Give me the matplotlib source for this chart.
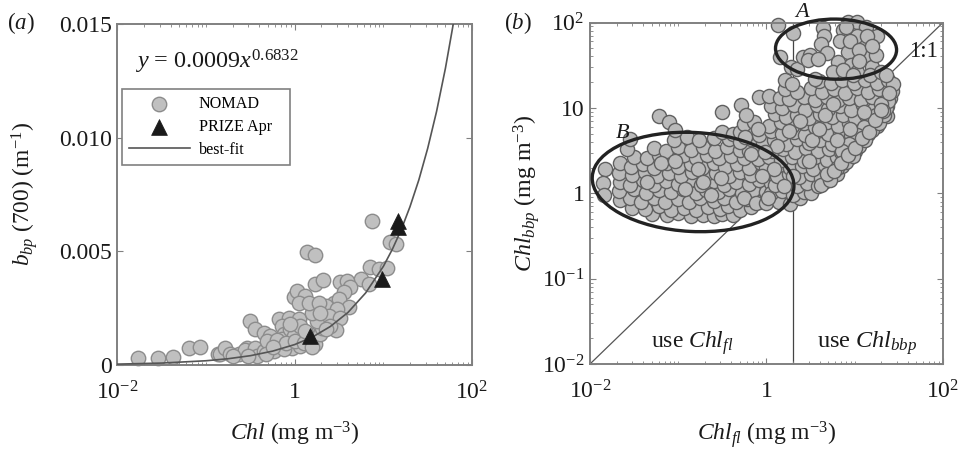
import numpy as np
import matplotlib
matplotlib.use('Agg')
import matplotlib.pyplot as plt
from matplotlib.patches import Ellipse
from matplotlib.ticker import LogLocator, NullFormatter, FixedLocator

plt.rcParams['font.family'] = ['Liberation Serif', 'DejaVu Serif']
plt.rcParams['mathtext.fontset'] = 'custom'
plt.rcParams['mathtext.rm'] = 'Liberation Serif'
plt.rcParams['mathtext.it'] = 'Liberation Serif:italic'
plt.rcParams['mathtext.bf'] = 'Liberation Serif:bold'

# panel a, NOMAD: log10(chl), bbp700
nomad_logchl = [-1.774, -1.54, -1.379, -1.198, -1.073, -.87, -.84, -.783, -.727, -.633, -.539, -.557, -.444, -.426,
                -.35, -.508, -.444, -.35, -.275, -.313, -.237, -.181, -.068, -.143, -.124, -.143, -.049, -.011,
                .045, .064, -.03, .064, .158, .234, .177, .29, .309, .252, .196, -.011, .026, .12, .045, .158,
                .234, .32, .139, .234, .874, 1.08, 1.145, .847, .949, 1.043, .75, .516, .584, .621, .554, .441,
                .497, .347, .61, .478, .384, .516, .471, .836, .271, .29, .403, .347, -.7, -.53, -.32, -.12,
                -.2, -.1, .0, .1, .2, .12, -.25, -.05]
nomad_bbp = [.00032, .00029, .00035, .00073, .00079, .0005, .00047, .00076, .00047, .00047, .00076, .00065, .00076, .0004,
             .00062, .00194, .00157, .00142, .00128, .00106, .00062, .00201, .00208, .00172, .00135, .00113, .00157, .00128,
             .00201, .00172, .00076, .00084, .00135, .00091, .0012, .00135, .00164, .00194, .0023, .00297, .00326, .00304, .00274, .00274,
             .00355, .00373, .00499, .00484, .00634, .00543, .00531, .00431, .00421, .00426, .0038, .00367, .0037, .00341, .00319, .00274,
             .00289, .0026, .00255, .00245, .00216, .00208, .00153, .00355, .00274, .0023, .00172, .00157, .0004, .0004, .0005, .0007,
             .0011, .00095, .00105, .00095, .0008, .0015, .0008, .0018]

# panel a, PRIZE Apr
prize_logchl = [.177, .987, 1.164, 1.164]
prize_bbp = [.00128, .00377, .00605, .00634]

# panel a, best-fit curve
fit_logchl = [-2, -1.5, -1, -.75, -.5, -.25, 0, .2, .4, .6, .8, 1, 1.1, 1.2, 1.3, 1.4, 1.5, 1.6, 1.7, 1.79]
fit_bbp = [.0000387, .000085, .000187, .000277, .00041, .00061, .0009, .00123, .00169, .00231, .00317, .00434,
           .00508, .00594, .00696, .00814, .00953, .01115, .01305, .01503]

# panel b: (log10 chl_fl, log10 chl_bbp)
group_b = [
    (-1.83, .28), (-1.85, .12), (-1.84, -.02),
    (-1.3, -.24), (-1.13, -.26), (-1.0, -.23), (-.86, -.27), (-.72, -.25), (-.6, -.27), (-.5, -.24), (-.38, -.26),
    (-1.52, -.17), (-1.38, -.19), (-1.22, -.15), (-1.08, -.2), (-.94, -.17), (-.8, -.2), (-.66, -.16), (-.53, -.19), (-.44, -.15), (-.3, -.2), (-.18, -.16),
    (-1.66, -.08), (-1.55, -.05), (-1.42, -.1), (-1.28, -.06), (-1.15, -.1), (-1.0, -.07), (-.88, -.1), (-.75, -.05), (-.6, -.09), (-.48, -.06), (-.35, -.1), (-.22, -.07), (-.08, -.1), (.05, -.06),
    (-1.67, .03), (-1.5, .05), (-1.36, .0), (-1.22, .04), (-1.08, .01), (-.95, .05), (-.8, .0), (-.68, .04), (-.55, .01), (-.42, .05), (-.28, .0), (-.15, .04), (0, .01), (.1, .05),
    (-1.66, .13), (-1.55, .1), (-1.4, .15), (-1.28, .1), (-1.14, .14), (-1.0, .11), (-.87, .15), (-.74, .1), (-.6, .14), (-.48, .1), (-.34, .13), (-.2, .11), (-.08, .15), (.05, .12), (.14, .1),
    (-1.67, .24), (-1.52, .21), (-1.38, .25), (-1.24, .2), (-1.1, .24), (-.97, .2), (-.84, .25), (-.7, .21), (-.57, .24), (-.43, .2), (-.3, .25), (-.17, .21), (-.03, .24), (.1, .2),
    (-1.66, .35), (-1.54, .31), (-1.4, .34), (-1.27, .3), (-1.13, .35), (-1.0, .31), (-.86, .34), (-.73, .3), (-.6, .35), (-.47, .31), (-.33, .34), (-.2, .3), (-.06, .35), (.05, .31),
    (-1.5, .43), (-1.35, .41), (-1.22, .45), (-1.08, .41), (-.94, .45), (-.8, .41), (-.67, .45), (-.54, .41), (-.4, .44), (-.26, .41), (-.12, .45),
    (-1.58, .52), (-1.28, .53), (-1.14, .5), (-1.0, .54), (-.86, .51), (-.72, .54), (-.58, .5), (-.45, .54), (-.3, .51), (-.16, .54),
    (-1.55, .64), (-1.05, .62), (-.9, .66), (-.76, .62), (-.6, .65), (-.42, .63), (-.28, .67), (-.5, .72), (-.38, .69),
    (-1.22, .9), (-1.1, .84), (-1.04, .74), (-.5, .95), (-.29, 1.03),
    (-1.2, .35), (-.92, .05), (-.78, .28), (-.63, -.02), (-.51, .18), (-1.04, .38), (-.72, .13), (-.26, -.05), (-1.35, .13), (-.12, -.12),
]
group_mid = [
    (.0, -.12), (.14, -.1), (.27, -.13), (.38, -.06),
    (.05, .0), (.18, .03), (.3, -.02), (.42, .02), (.5, .0),
    (.1, .1), (.22, .13), (.34, .08), (.46, .12), (.58, .09), (.65, .13),
    (.12, .2), (.25, .23), (.37, .19), (.5, .22), (.62, .18), (.74, .2), (.8, .23),
    (.0, .3), (.14, .33), (.27, .29), (.4, .32), (.53, .28), (.66, .33), (.78, .29), (.85, .32),
    (-.1, .4), (.03, .43), (.16, .39), (.29, .42), (.42, .38), (.55, .42), (.68, .39), (.8, .43), (.94, .41),
    (-.2, .5), (-.07, .53), (.06, .49), (.19, .52), (.32, .48), (.45, .53), (.58, .49), (.71, .52), (.84, .48), (1.0, .5),
    (-.3, .6), (-.17, .63), (-.04, .59), (.09, .62), (.22, .58), (.35, .63), (.48, .59), (.61, .62), (.74, .58), (.87, .62), (1.0, .59), (1.1, .62),
    (-.3, .72), (-.2, .7), (-.08, .68), (.05, .73), (.18, .69), (.31, .72), (.44, .68), (.57, .73), (.7, .69), (.83, .72), (.96, .68), (1.08, .72), (1.15, .69),
    (-.25, .81), (-.14, .84), (.03, .79), (.16, .83), (.29, .79), (.42, .82), (.55, .78), (.68, .83), (.81, .79), (.94, .82), (1.07, .78), (1.2, .82), (1.25, .79),
    (-.23, .92), (.1, .93), (.22, .89), (.35, .92), (.48, .88), (.61, .93), (.74, .89), (.87, .92), (1.0, .88), (1.13, .92), (1.27, .88), (1.36, .91),
    (.05, 1.02), (.18, 1.0), (.31, 1.03), (.44, .98), (.57, 1.03), (.7, .99), (.83, 1.02), (.96, .98), (1.09, 1.03), (1.22, .99), (1.37, 1.02),
    (-.08, 1.13), (.03, 1.14), (.15, 1.12), (.25, 1.1), (.42, 1.13), (.55, 1.09), (.68, 1.13), (.81, 1.09), (.94, 1.12), (1.07, 1.09), (1.2, 1.13), (1.34, 1.1), (1.4, 1.12),
    (.21, 1.22), (.35, 1.19), (.5, 1.23), (.63, 1.19), (.76, 1.22), (.89, 1.18), (1.02, 1.23), (1.15, 1.19), (1.28, 1.22), (1.42, 1.2),
    (.21, 1.33), (.29, 1.28), (.6, 1.32), (.73, 1.29), (.86, 1.33), (.99, 1.29), (1.12, 1.33), (1.25, 1.29), (1.38, 1.33), (1.43, 1.28),
    (.62, .1), (.72, .16), (.8, .3), (.9, .37), (.98, .44), (1.05, .55), (1.12, .62), (1.2, .74), (1.28, .82), (1.33, .92),
    (1.35, 1.0), (1.38, 1.08), (1.3, 1.05), (1.32, .96), (1.24, .92), (1.16, .84), (1.1, .78), (1.02, .68), (.93, .58), (.86, .5),
    (.68, .22), (.76, .26), (.84, .35), (.92, .45), (1.0, .53), (1.08, .65), (1.16, .72), (1.23, .86), (1.3, .97), (1.39, 1.17),
    (.25, .73), (.52, .62), (.38, .85), (.66, .92), (.12, .55), (.48, .38), (.8, .62), (.95, .75), (.6, .75), (.3, .2),
    (-.18, .46), (-.1, .75), (-.24, .66), (-.02, .48), (.08, .28), (.2, .08), (-.05, .2), (.02, -.05), (1.1, .95), (.75, 1.05),
]
group_a = [
    (.132, 1.97), (.3, 1.875), (.15, 1.6), (.28, 1.48), (.35, 1.45), (.64, 1.93), (.65, 1.84), (.62, 1.75),
    (.87, 1.91), (.92, 2.01), (1.02, 2.01), (1.13, 1.95), (1.25, 1.84), (1.02, 1.84), (.83, 1.78), (1.13, 1.72),
    (.92, 1.66), (.68, 1.64), (.415, 1.6), (.49, 1.62), (.47, 1.555), (.585, 1.57), (.81, 1.54), (.96, 1.5),
    (1.11, 1.6), (1.2, 1.48), (.755, 1.425), (.87, 1.44), (1.02, 1.42), (1.24, 1.62), (1.14, 1.84), (.95, 1.78),
    (1.05, 1.68), (1.17, 1.38), (1.3, 1.42), (.9, 1.95), (1.2, 1.72), (.55, 1.34), (.98, 1.38), (1.05, 1.55), (1.35, 1.38),
]
chl_points = group_b + group_mid + group_a

diag_x = [.01, 100]
diag_y = [.01, 100]
switch_x = [2.0, 2.0]
switch_y = [.01, 100]

W, H = 962, 449
fig = plt.figure(figsize=(W / 100, H / 100), dpi=100)
ax1 = fig.add_axes([117.5 / W, (H - 365) / H, 354.5 / W, 341 / H])
ax2 = fig.add_axes([590 / W, (H - 364) / H, 353 / W, 341.5 / H])

gray = '#808080'
for ax in (ax1, ax2):
    ax.set_xscale('log')
    ax.set_xlim(.01, 100)
    ax.xaxis.set_major_locator(FixedLocator([.01, 1, 100]))
    ax.xaxis.set_minor_locator(LogLocator(base=10, subs=np.arange(1, 10), numticks=12))
    ax.xaxis.set_minor_formatter(NullFormatter())
    ax.set_xticklabels([r'$10^{-2}$', '1', r'$10^{2}$'])
    ax.tick_params(which='major', direction='in', top=True, right=True, length=4, width=.8, color=gray, labelsize=17, labelcolor='#1a1a1a')
    ax.tick_params(which='minor', direction='in', top=True, right=True, length=2, width=.6, color=gray)
    ax.tick_params(axis='x', which='major', pad=12)
    ax.tick_params(axis='y', which='major', pad=4)
    for s in ax.spines.values():
        s.set_color(gray)
        s.set_linewidth(1.4)

# (a)
ax1.set_ylim(0, .015)
ax1.set_yticks([0, .005, .01, .015])
ax1.set_yticklabels(['0', '0.005', '0.010', '0.015'])
h1 = ax1.scatter(10 ** np.array(nomad_logchl), nomad_bbp, s=108, c='#c0c0c0', edgecolors='#8c8c8c', linewidths=1, zorder=2, clip_on=False, label='NOMAD')
h3, = ax1.plot(10 ** np.array(fit_logchl), fit_bbp, color='#555555', lw=1.2, zorder=3, label='best-fit')
h2 = ax1.scatter(10 ** np.array(prize_logchl), prize_bbp, s=130, marker='^', c='#1a1a1a', edgecolors='#1a1a1a', linewidths=.5, zorder=4, clip_on=False, label='PRIZE Apr')
ax1.text(.05, .888, r'$\mathit{y}$ = 0.0009$\mathit{x}^{0.6832}$', transform=ax1.transAxes, fontsize=17.4, va='center', color='#1a1a1a')
leg = ax1.legend([h1, h2, h3], ['NOMAD', 'PRIZE Apr   ', 'best-fit'], loc='upper left', bbox_to_anchor=(.012, .808),
                 borderaxespad=0, fancybox=False, framealpha=1, edgecolor=gray, fontsize=11.6, handlelength=3.8,
                 handletextpad=.55, labelspacing=.42, borderpad=.42, scatterpoints=1)
leg.get_frame().set_linewidth(1.2)
ax1.set_xlabel(r'$\mathit{Chl}$ (mg m$^{-3}$)', fontsize=17, labelpad=11, color='#1a1a1a')
ax1.set_ylabel(r'$\mathit{b}_{\mathit{bp}}$ (700) (m$^{-1}$)', fontsize=16.8, labelpad=14, color='#1a1a1a')

# (b)
ax2.set_yscale('log')
ax2.set_ylim(.01, 100)
ax2.yaxis.set_major_locator(FixedLocator([.01, .1, 1, 10, 100]))
ax2.yaxis.set_minor_locator(LogLocator(base=10, subs=np.arange(1, 10), numticks=12))
ax2.yaxis.set_minor_formatter(NullFormatter())
ax2.set_yticklabels([r'$10^{-2}$', r'$10^{-1}$', '1', '10', r'$10^{2}$'])
ax2.plot(diag_x, diag_y, color='#555555', lw=.9, zorder=1)
ax2.plot(switch_x, switch_y, color='#444444', lw=.9, zorder=1)
pts = 10 ** np.array(chl_points)
ax2.scatter(pts[:, 0], pts[:, 1], s=104, c='#bababa', edgecolors='#606060', linewidths=1, zorder=2, clip_on=False)
ax2.add_patch(Ellipse((.292, .533), .572, .29, angle=-3, transform=ax2.transAxes, fill=False, ec='#222222', lw=2.4, zorder=3, clip_on=False))
ax2.add_patch(Ellipse((.697, .922), .343, .176, angle=-1, transform=ax2.transAxes, fill=False, ec='#222222', lw=2.4, zorder=3, clip_on=False))
ax2.text(.603, 1.028, r'$\mathit{A}$', transform=ax2.transAxes, fontsize=16, ha='center', va='center', color='#1a1a1a', zorder=5)
ax2.text(.0235, 5.0, r'$\mathit{B}$', fontsize=16, ha='center', va='center', color='#1a1a1a', zorder=5)
ax2.text(.946, .914, '1:1', transform=ax2.transAxes, fontsize=16.5, ha='center', va='center', color='#1a1a1a', zorder=5)
ax2.text(.29, .062, r'use $\mathit{Chl}_{\mathit{fl}}$', transform=ax2.transAxes, fontsize=17, ha='center', va='center', color='#1a1a1a')
ax2.text(.785, .062, r'use $\mathit{Chl}_{\mathit{bbp}}$', transform=ax2.transAxes, fontsize=17.5, ha='center', va='center', color='#1a1a1a')
ax2.set_xlabel(r'$\mathit{Chl}_{\mathit{fl}}$ (mg m$^{-3}$)', fontsize=17, labelpad=11, color='#1a1a1a')
ax2.set_ylabel(r'$\mathit{Chl}_{\mathit{bbp}}$ (mg m$^{-3}$)', fontsize=17.3, labelpad=0, color='#1a1a1a')

fig.text(21 / W, 1 - 23 / H, r'($\mathit{a}$)', fontsize=16.5, ha='center', va='center', color='#1a1a1a')
fig.text(518 / W, 1 - 23 / H, r'($\mathit{b}$)', fontsize=16.5, ha='center', va='center', color='#1a1a1a')

fig.savefig('out.png', dpi=100)
